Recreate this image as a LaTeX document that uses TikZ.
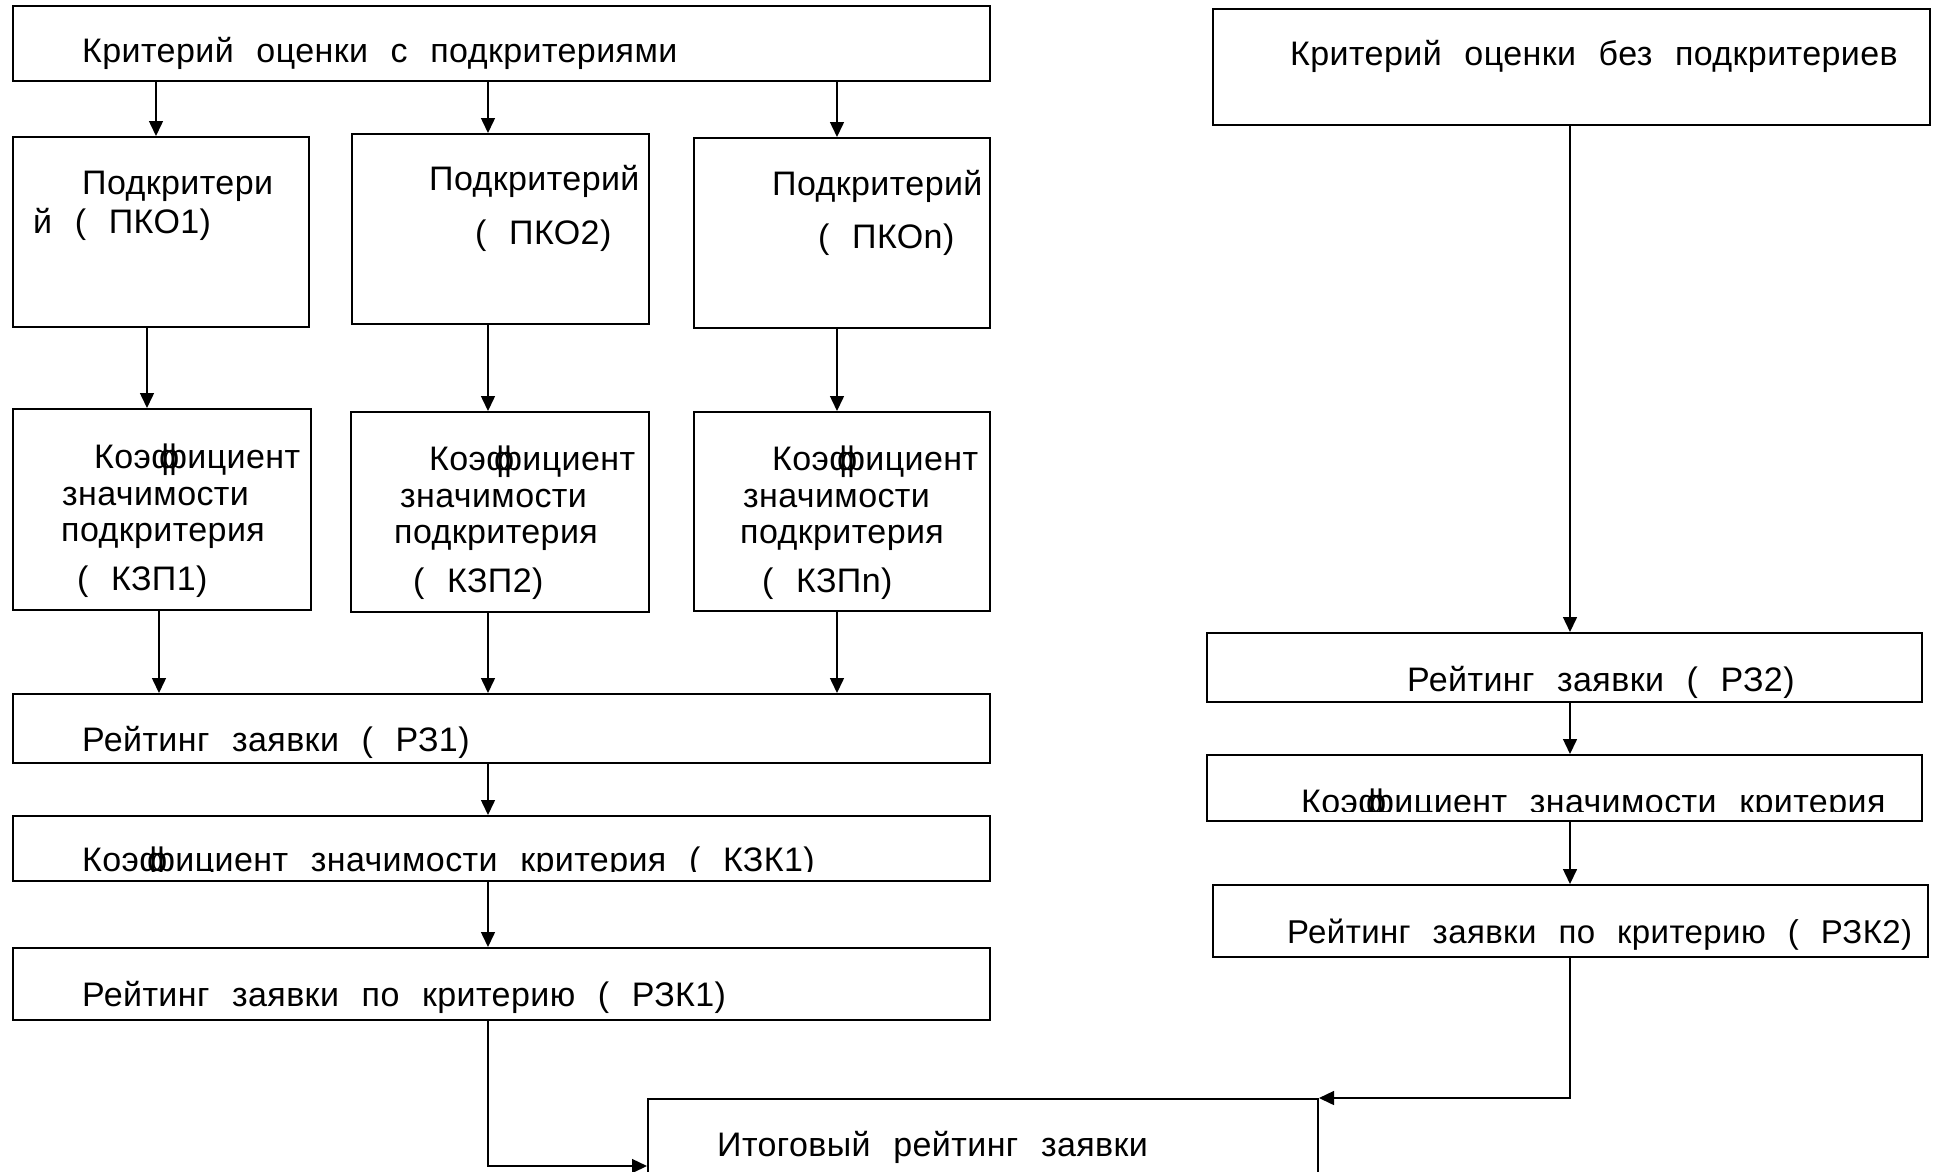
\documentclass[tikz,border=0pt]{standalone}
\usepackage{fontspec}
\setmainfont{Liberation Sans}[LetterSpace=1.2,WordSpace=2.3]
\usetikzlibrary{arrows.meta,calc}
\newcommand{\koef}{Коэф\kern-.6em фициент}
\tikzset{
    box/.style={draw,line width=2pt,inner sep=0pt},
    txt/.style={anchor=base west,inner sep=0pt,font=\fontsize{34}{40}\selectfont},
    arr/.style={line width=1.5pt,-{Triangle[length=15pt,width=14pt]}},
}

\begin{document}
\begin{tikzpicture}[x=1pt,y=-1pt]
    \useasboundingbox (0,0) rectangle (1937,1171);
    \clip (0,0) rectangle (1937,1171);
    % Arrow columns
    \coordinate (xa) at (156,0);
    \coordinate (xb) at (147,0);
    \coordinate (xc) at (159,0);
    \coordinate (xm) at (488,0);
    \coordinate (xn) at (837,0);
    \coordinate (xr) at (1570,0);
    % Criterion with subcriteria
    \node[box,minimum width=977pt,minimum height=75pt] (crit1) at (501.5,43.5) {};
    \node[txt] (crit1-t) at (82,62) {Критерий оценки с подкритериями};
    % Subcriteria
    \node[box,minimum width=296pt,minimum height=190pt] (pko1) at (161,232) {};
    \node[txt] (pko1-a) at (82,194) {Подкритери};
    \node[txt] (pko1-b) at (33,233) {й ( ПКО1)};
    \node[box,minimum width=297pt,minimum height=190pt] (pko2) at (500.5,229) {};
    \node[txt] (pko2-a) at (429,190) {Подкритерий};
    \node[txt] (pko2-b) at (475,244) {( ПКО2)};
    \node[box,minimum width=296pt,minimum height=190pt] (pkon) at (842,233) {};
    \node[txt] (pkon-a) at (772,195) {Подкритерий};
    \node[txt] (pkon-b) at (818,248) {( ПКОn)};
    % Subcriterion weights
    \node[box,minimum width=298pt,minimum height=201pt] (kzp1) at (162,509.5) {};
    \node[txt] (kzp1-a) at (94,468) {\koef};
    \node[txt] (kzp1-b) at (62,505) {значимости};
    \node[txt] (kzp1-c) at (61,541) {подкритерия};
    \node[txt] (kzp1-d) at (77,590) {( КЗП1)};
    \node[box,minimum width=298pt,minimum height=200pt] (kzp2) at (500,512) {};
    \node[txt] (kzp2-a) at (429,470) {\koef};
    \node[txt] (kzp2-b) at (400,507) {значимости};
    \node[txt] (kzp2-c) at (394,543) {подкритерия};
    \node[txt] (kzp2-d) at (413,592) {( КЗП2)};
    \node[box,minimum width=296pt,minimum height=199pt] (kzpn) at (842,511.5) {};
    \node[txt] (kzpn-a) at (772,470) {\koef};
    \node[txt] (kzpn-b) at (743,507) {значимости};
    \node[txt] (kzpn-c) at (740,543) {подкритерия};
    \node[txt] (kzpn-d) at (762,592) {( КЗПn)};
    % Rating, weight, rating by criterion
    \node[box,minimum width=977pt,minimum height=69pt] (rz1) at (501.5,728.5) {};
    \node[txt] (rz1-t) at (82,751) {Рейтинг заявки ( РЗ1)};
    \node[box,minimum width=977pt,minimum height=65pt] (kzk1) at (501.5,848.5) {};
    \begin{scope}
        \clip (kzk1.north west) rectangle ($(kzk1.south east)+(0,-11)$);
        \node[txt] (kzk1-t) at (82,871) {\koef{} значимости критерия ( КЗК1)};
    \end{scope}
    \node[box,minimum width=977pt,minimum height=72pt] (rzk1) at (501.5,984) {};
    \node[txt] (rzk1-t) at (82,1006) {Рейтинг заявки по критерию ( РЗК1)};
    % Criterion without subcriteria
    \node[box,minimum width=717pt,minimum height=116pt] (crit2) at (1571.5,67) {};
    \node[txt] (crit2-t) at (1290,65) {Критерий оценки без подкритериев};
    \node[box,minimum width=715pt,minimum height=69pt] (rz2) at (1564.5,667.5) {};
    \node[txt] (rz2-t) at (1407,691) {Рейтинг заявки ( РЗ2)};
    \node[box,minimum width=715pt,minimum height=66pt] (kzk2) at (1564.5,788) {};
    \begin{scope}
        \clip (kzk2.north west) rectangle ($(kzk2.south east)+(0,-11)$);
        \node[txt] (kzk2-t) at (1301,813) {\koef{} значимости критерия};
    \end{scope}
    \node[box,minimum width=715pt,minimum height=72pt] (rzk2) at (1570.5,921) {};
    \node[txt,font=\fontsize{33}{40}\selectfont] (rzk2-t) at (1287,943) {Рейтинг заявки по критерию ( РЗК2)};
    % Total
    \node[box,minimum width=670pt,minimum height=134pt] (itog) at (983,1166) {};
    \node[txt] (itog-t) at (717,1156) {Итоговый рейтинг заявки};
    % Arrows
    \draw[arr] (crit1.south -| xa) -- (pko1.north -| xa);
    \draw[arr] (crit1.south -| xm) -- (pko2.north -| xm);
    \draw[arr] (crit1.south -| xn) -- (pkon.north -| xn);
    \draw[arr] (pko1.south -| xb) -- (kzp1.north -| xb);
    \draw[arr] (pko2.south -| xm) -- (kzp2.north -| xm);
    \draw[arr] (pkon.south -| xn) -- (kzpn.north -| xn);
    \draw[arr] (kzp1.south -| xc) -- (rz1.north -| xc);
    \draw[arr] (kzp2.south -| xm) -- (rz1.north -| xm);
    \draw[arr] (kzpn.south -| xn) -- (rz1.north -| xn);
    \draw[arr] (rz1.south -| xm) -- (kzk1.north -| xm);
    \draw[arr] (kzk1.south -| xm) -- (rzk1.north -| xm);
    \draw[arr] (rzk1.south -| xm) |- (itog.west);
    \draw[arr] (crit2.south -| xr) -- (rz2.north -| xr);
    \draw[arr] (rz2.south -| xr) -- (kzk2.north -| xr);
    \draw[arr] (kzk2.south -| xr) -- (rzk2.north -| xr);
    \draw[arr] (rzk2.south -| xr) |- (itog.north east);
\end{tikzpicture}
\end{document}
